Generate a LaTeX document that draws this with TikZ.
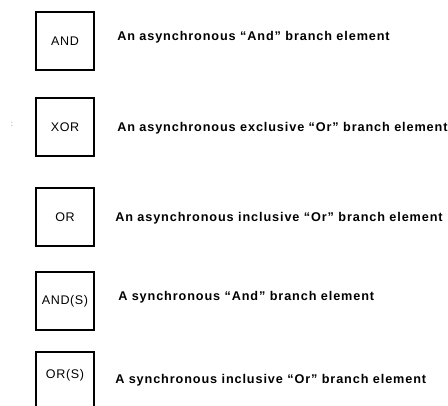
\documentclass[tikz,border=0pt]{standalone}
\usepackage{fontspec}
\setmainfont{Liberation Sans}
\newfontfamily\labfont{Liberation Sans}[LetterSpace=7,BoldFont={Liberation Sans Bold}]
\newfontfamily\boxfont{Liberation Sans}[LetterSpace=5]
\begin{document}
\begin{tikzpicture}[x=0.75pt,y=-0.75pt,
  gate/.style={draw=black,line width=1.1pt,minimum width=43.5pt,minimum height=43.5pt,inner sep=0pt,
    font=\boxfont\fontsize{9.4pt}{10pt}\selectfont},
  desc/.style={anchor=base west,inner sep=0pt,font=\labfont\bfseries\fontsize{9.5pt}{11pt}\selectfont}]
\useasboundingbox (0,0) rectangle (448,405);
\clip (0,0) rectangle (448,405);
\node[gate] (b1) at (65,41) {AND};
\node[gate] (b2) at (65,127) {\raisebox{-1.5pt}{XOR}};
\node[gate] (b3) at (65,217) {OR};
\node[gate] (b4) at (65,301) {AND(S)};
\node[gate] (b5) at (65,381) {\raisebox{11pt}{OR(S)}};
\node[desc] (l1) at (117,40) {An asynchronous “And” branch element};
\node[desc] (l2) at (117,131) {An asynchronous exclusive “Or” branch element};
\node[desc] (l3) at (115,221) {An asynchronous inclusive “Or” branch element};
\node[desc] (l4) at (118,300) {A synchronous “And” branch element};
\node[desc] (l5) at (115,383) {A synchronous inclusive “Or” branch element};
\node[inner sep=0pt,text=gray,font=\fontsize{6pt}{7pt}\selectfont] (c) at (12,124) {:};
\end{tikzpicture}
\end{document}
